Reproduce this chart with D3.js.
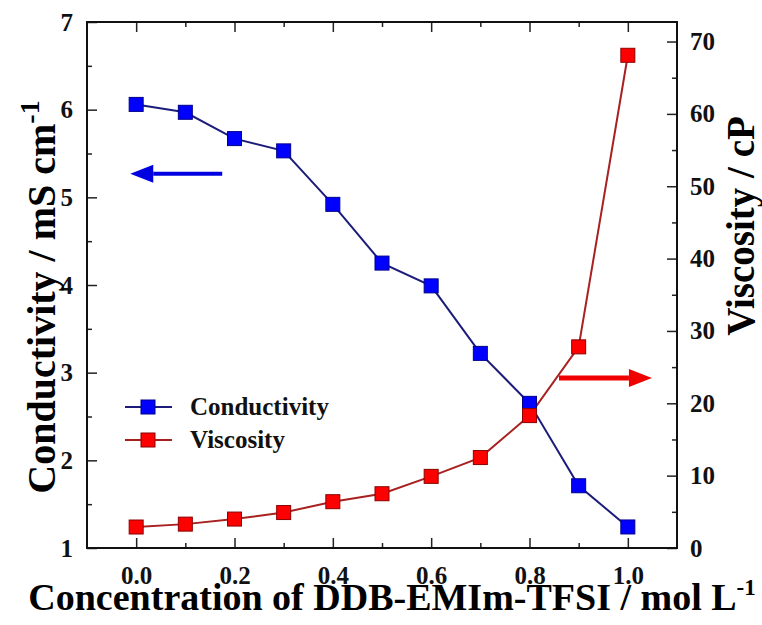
<!DOCTYPE html>
<meta charset="utf-8">
<script src="https://d3js.org/d3.v7.min.js"></script>
<style>
  body { margin: 0; background: #fff; }
  text { font-family: "Liberation Serif", "Times New Roman", serif; font-weight: bold; }
</style>
<div id="chart"></div>
<script>

// data
var conc = [0.0, 0.1, 0.2, 0.3, 0.4, 0.5, 0.6, 0.7, 0.8, 0.9, 1.0];
var conductivity = [6.06, 5.97, 5.67, 5.53, 4.92, 4.25, 3.99, 3.22, 2.65, 1.71, 1.24];
var viscosity = [2.9, 3.3, 4.0, 4.9, 6.4, 7.5, 9.9, 12.5, 18.3, 27.8, 68.1];

var xMajor = [0.0, 0.2, 0.4, 0.6, 0.8, 1.0];
var xMinor = [0.1, 0.3, 0.5, 0.7, 0.9];
var yLeftMajor = [1, 2, 3, 4, 5, 6, 7];
var yLeftMinor = [1.5, 2.5, 3.5, 4.5, 5.5, 6.5];
var yRightMajor = [0, 10, 20, 30, 40, 50, 60, 70];
var yRightMinor = [5, 15, 25, 35, 45, 55, 65];

var width = 762,
    height = 625,
    pLeft = 87, pRight = 677, pTop = 22, pBottom = 548;

var svg = d3.select("#chart").append("svg")
    .attr("width", width)
    .attr("height", height);

var x = d3.scaleLinear().domain([-0.1, 1.1]).range([pLeft, pRight]);
var yL = d3.scaleLinear().domain([1, 7]).range([pBottom, pTop]);
var yR = d3.scaleLinear().domain([0, 72.7]).range([pBottom, pTop]);

// axes: inward ticks, major + minor
function styleAxis(g) {
    g.select(".domain").remove();
    g.attr("font-size", null).attr("font-family", null);
    g.selectAll("line").attr("stroke", "#222").attr("stroke-width", 1.5);
    g.selectAll("text").filter(function() { return this.textContent === ""; }).remove();
    g.selectAll("text").style("font-size", "25px").attr("fill", "#111");
}

svg.append("g").attr("transform", "translate(0," + pBottom + ")")
    .call(d3.axisBottom(x).tickValues(xMajor).tickFormat(d3.format(".1f")).tickSizeInner(-10).tickSizeOuter(0).tickPadding(18))
    .call(styleAxis);
svg.append("g").attr("transform", "translate(0," + pBottom + ")")
    .call(d3.axisBottom(x).tickValues(xMinor).tickFormat("").tickSizeInner(-5).tickSizeOuter(0))
    .call(styleAxis);
svg.append("g").attr("transform", "translate(0," + pTop + ")")
    .call(d3.axisTop(x).tickValues(xMajor).tickFormat("").tickSizeInner(-10).tickSizeOuter(0))
    .call(styleAxis);
svg.append("g").attr("transform", "translate(0," + pTop + ")")
    .call(d3.axisTop(x).tickValues(xMinor).tickFormat("").tickSizeInner(-5).tickSizeOuter(0))
    .call(styleAxis);

svg.append("g").attr("transform", "translate(" + pLeft + ",0)")
    .call(d3.axisLeft(yL).tickValues(yLeftMajor).tickFormat(d3.format("d")).tickSizeInner(-10).tickSizeOuter(0).tickPadding(14))
    .call(styleAxis);
svg.append("g").attr("transform", "translate(" + pLeft + ",0)")
    .call(d3.axisLeft(yL).tickValues(yLeftMinor).tickFormat("").tickSizeInner(-5).tickSizeOuter(0))
    .call(styleAxis);

svg.append("g").attr("transform", "translate(" + pRight + ",0)")
    .call(d3.axisRight(yR).tickValues(yRightMajor).tickFormat(d3.format("d")).tickSizeInner(-10).tickSizeOuter(0).tickPadding(13))
    .call(styleAxis);
svg.append("g").attr("transform", "translate(" + pRight + ",0)")
    .call(d3.axisRight(yR).tickValues(yRightMinor).tickFormat("").tickSizeInner(-5).tickSizeOuter(0))
    .call(styleAxis);

// frame
svg.append("rect")
    .attr("x", pLeft).attr("y", pTop)
    .attr("width", pRight - pLeft).attr("height", pBottom - pTop)
    .attr("fill", "none").attr("stroke", "#111").attr("stroke-width", 2);

// series
var cond = conc.map(function(c, i) { return [c, conductivity[i]]; });
var visc = conc.map(function(c, i) { return [c, viscosity[i]]; });

var series = [
    { data: cond, y: yL, line: "#1c1c7a", fill: "#0000ff", edge: "#00008b" },
    { data: visc, y: yR, line: "#a82020", fill: "#ff0000", edge: "#8b0000" }
];

var size = 14;
series.forEach(function(s) {
    svg.append("path")
        .datum(s.data)
        .attr("fill", "none")
        .attr("stroke", s.line)
        .attr("stroke-width", 2)
        .attr("d", d3.line().x(function(d) { return x(d[0]); }).y(function(d) { return s.y(d[1]); }));
});
series.forEach(function(s) {
    svg.selectAll(null)
        .data(s.data)
        .enter().append("rect")
        .attr("x", function(d) { return x(d[0]) - size / 2; })
        .attr("y", function(d) { return s.y(d[1]) - size / 2; })
        .attr("width", size).attr("height", size)
        .attr("fill", s.fill)
        .attr("stroke", s.edge)
        .attr("stroke-width", 1);
});

// arrows pointing at each axis
function arrow(x0, x1, yy, color, thick) {
    var dir = x1 > x0 ? 1 : -1,
        headLen = 23, headHalf = 9,
        xb = x1 - dir * headLen;
    svg.append("line")
        .attr("x1", x0).attr("x2", xb).attr("y1", yy).attr("y2", yy)
        .attr("stroke", color).attr("stroke-width", thick);
    svg.append("path")
        .attr("d", "M" + x1 + "," + yy + "L" + xb + "," + (yy - headHalf) + "L" + xb + "," + (yy + headHalf) + "Z")
        .attr("fill", color);
}
arrow(x(0.175), x(-0.012), yL(5.27), "#0000e0", 4);
arrow(x(0.86), x(1.049), yR(23.5), "#f00000", 5);

// legend
var legend = [
    { name: "Conductivity", s: series[0], y: 407 },
    { name: "Viscosity", s: series[1], y: 440 }
];
legend.forEach(function(l) {
    svg.append("line")
        .attr("x1", 125).attr("x2", 172).attr("y1", l.y).attr("y2", l.y)
        .attr("stroke", l.s.line).attr("stroke-width", 2);
    svg.append("rect")
        .attr("x", 148 - size / 2).attr("y", l.y - size / 2)
        .attr("width", size).attr("height", size)
        .attr("fill", l.s.fill).attr("stroke", l.s.edge);
    svg.append("text")
        .attr("x", 190).attr("y", l.y + 8)
        .style("font-size", "25px")
        .attr("fill", "#111")
        .text(l.name);
});

// axis titles
var tl = svg.append("text")
    .attr("transform", "translate(55,297) rotate(-90)")
    .attr("text-anchor", "middle")
    .style("font-size", "40px");
tl.append("tspan").text("Conductivity / mS cm");
tl.append("tspan").attr("dy", -16).style("font-size", "28px").text("-1");

svg.append("text")
    .attr("transform", "translate(754,226) rotate(-90)")
    .attr("text-anchor", "middle")
    .style("font-size", "39px")
    .text("Viscosity / cP");

var tb = svg.append("text")
    .attr("x", 392).attr("y", 610)
    .attr("text-anchor", "middle")
    .style("font-size", "38px");
tb.append("tspan").text("Concentration of DDB-EMIm-TFSI / mol L");
tb.append("tspan").attr("dy", -15).style("font-size", "23px").text("-1");

</script>
